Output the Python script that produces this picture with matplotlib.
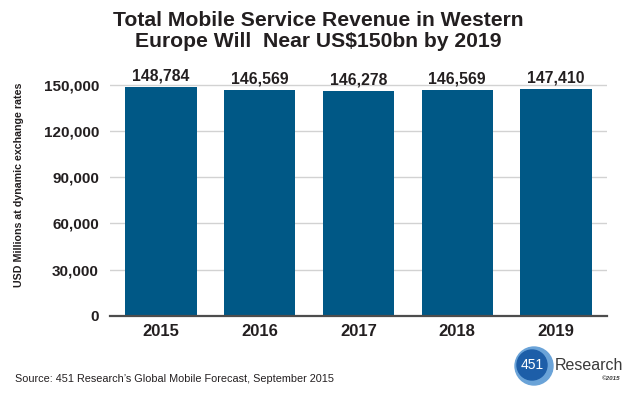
import matplotlib
matplotlib.use("Agg")
import matplotlib.pyplot as plt
from matplotlib.patches import Ellipse

# data
years = ["2015", "2016", "2017", "2018", "2019"]
revenue = [148784, 146569, 146278, 146569, 147410]
yticks = [0, 30000, 60000, 90000, 120000, 150000]

TITLE = "Total Mobile Service Revenue in Western\nEurope Will  Near US$150bn by 2019"
YLABEL = "USD Millions at dynamic exchange rates"
SOURCE = "Source: 451 Research\u2019s Global Mobile Forecast, September 2015"

BAR_COLOR = "#005886"
TEXT_COLOR = "#231f20"
FONT = "Liberation Sans"

W, H = 632, 398
fig = plt.figure(figsize=(W / 100, H / 100), dpi=100)
ax = fig.add_axes([110 / W, 1 - 315.7 / H, 497 / W, 238.4 / H])

x = list(range(len(years)))
ax.bar(x, revenue, width=0.72, color=BAR_COLOR, zorder=3)
for xi, v in zip(x, revenue):
    ax.annotate(f"{v:,}", (xi, v), xytext=(0, 2.5), textcoords="offset points",
                ha="center", va="bottom", fontsize=11.3, fontweight="bold",
                family=FONT, color=TEXT_COLOR)

ax.set_xlim(-0.516, 4.516)
ax.set_ylim(0, 155000)
ax.set_xticks(x)
ax.set_xticklabels(years)
ax.set_yticks(yticks)
ax.set_yticklabels([f"{t:,}" for t in yticks])
ax.tick_params(axis="both", length=0, colors=TEXT_COLOR)
ax.tick_params(axis="y", pad=8, labelsize=11)
ax.tick_params(axis="x", pad=6, labelsize=12)
for lab in ax.get_xticklabels() + ax.get_yticklabels():
    lab.set_fontweight("bold")
    lab.set_family(FONT)

ax.grid(axis="y", color="#d2d2d2", linewidth=1, zorder=0)
for side in ["top", "right", "left"]:
    ax.spines[side].set_visible(False)
ax.spines["bottom"].set_color("#4d4d4d")
ax.spines["bottom"].set_linewidth(1.6)
ax.spines["bottom"].set_zorder(4)

fig.text(318 / W, 1 - 31 / H, TITLE, ha="center", va="center", fontsize=15.2,
         fontweight="bold", family=FONT, color=TEXT_COLOR, linespacing=1.08)
fig.text(19 / W, 1 - 185 / H, YLABEL, rotation=90, ha="center", va="center",
         fontsize=7.7, fontweight="bold", family=FONT, color=TEXT_COLOR)
fig.text(15 / W, 1 - 379 / H, SOURCE, ha="left", va="center", fontsize=7.8,
         family=FONT, color=TEXT_COLOR)

# 451 Research logo
fig.add_artist(Ellipse((534 / W, 1 - 366 / H), 38 / W, 38 / H,
                       transform=fig.transFigure, color="#6aa3d8"))
fig.add_artist(Ellipse((532 / W, 1 - 365 / H), 30 / W, 30 / H,
                       transform=fig.transFigure, color="#1d5ea8"))
fig.text(532 / W, 1 - 365 / H, "451", ha="center", va="center", fontsize=10,
         family=FONT, color="white")
fig.text(555 / W, 1 - 366 / H, "Research", ha="left", va="center", fontsize=11.5,
         family=FONT, color="#3a3a3a")
fig.text(620 / W, 1 - 379 / H, "\u00a92015", ha="right", va="center", fontsize=4.5,
         fontweight="bold", style="italic", family=FONT, color="#3a3a3a")

fig.savefig("out.png", dpi=100)
